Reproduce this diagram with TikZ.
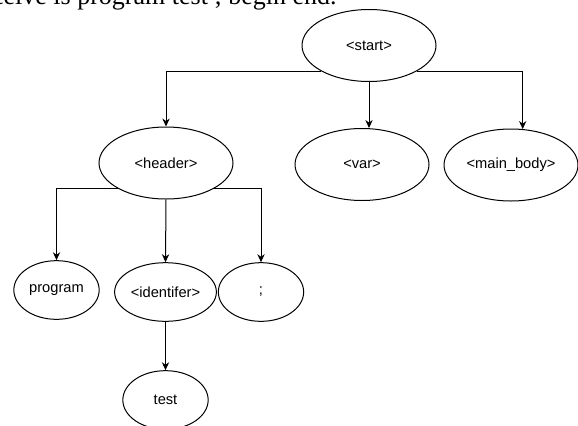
\documentclass[tikz,border=0pt]{standalone}
\usepackage{fontspec}
\setmainfont{Liberation Serif}
\newfontfamily\arialfont{Liberation Sans}
\usetikzlibrary{shapes.geometric, arrows.meta}

\begin{document}
\begin{tikzpicture}[x=0.75pt, y=-0.75pt, line width=0.75pt,
	every node/.style={font=\arialfont\fontsize{11}{13}\selectfont, inner sep=1pt},
	big/.style={draw, ellipse, minimum width=100.5pt, minimum height=54pt},
	small/.style={draw, ellipse, minimum width=64pt, minimum height=44pt},
	arr/.style={-{Stealth[length=6pt, width=5.5pt]}}]
	
	\clip (0, 0) rectangle (578, 425);
	% Dòng chữ phía trên
	\node[anchor=base east, inner sep=0pt, font=\rmfamily\fontsize{19.5}{22}\selectfont] (line) at (337, 4) {The first input we receive is program test ; begin end.};
	\node[big] (start) at (369, 45.5) {<start>};
	\node[big] (header) at (166, 163) {<header>};
	\node[big] (var) at (362, 164.5) {<var>};
	\node[big] (body) at (511, 165) {<main\_body>};
	\node[small] (program) at (56.5, 290) {program};
	\node[small] (ident) at (165.5, 292) {<identifer>};
	\node[small] (semi) at (261, 292) {;};
	\node[small] (test) at (165.5, 400) {test};
	\draw[arr] (start.south west) -| (header.north);
	\draw[arr] (start.south) -- (start.south |- var.north);
	\draw[arr] (start.south east) -| (body.72);
	\draw[arr] (header.south west) -| (program.north);
	\draw[arr] (header.south) -- (ident.north);
	\draw[arr] (header.south east) -| (semi.north);
	\draw[arr] (ident.south) -- (test.north);
\end{tikzpicture}
\end{document}
